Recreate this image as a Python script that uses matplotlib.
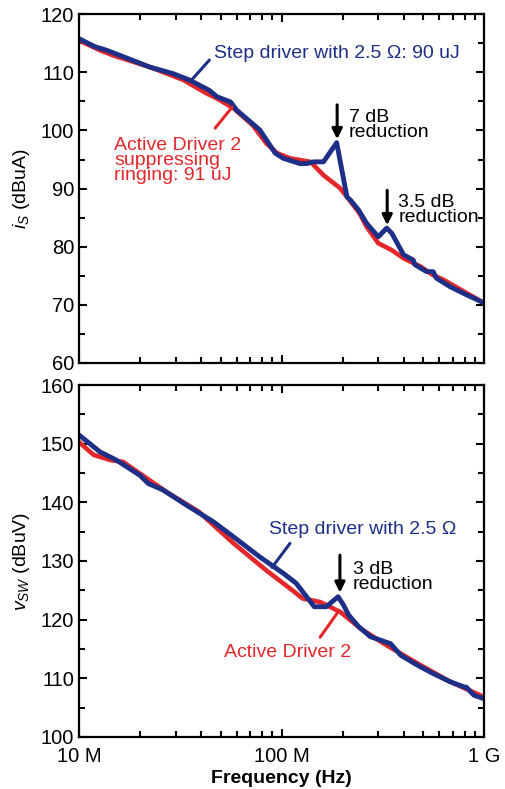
#!/usr/bin/env python3

# Conducted noise spectra: step driver vs. active driver

import matplotlib as mpl
mpl.use("Agg")

import matplotlib.pyplot as plt             # noqa
import matplotlib.ticker as mticker         # noqa
import numpy as np                          # noqa

plt.rcParams['font.family'] = ['Liberation Sans', 'DejaVu Sans']
plt.rcParams['mathtext.fontset'] = 'custom'
plt.rcParams['mathtext.rm'] = 'Liberation Sans'
plt.rcParams['mathtext.it'] = 'Liberation Sans:italic'

BLUE = '#1d2f86'
RED = '#e3272b'
FS = 14

# source current i_S (dBuA), frequencies in MHz
is_step_f = [10, 12, 13.7, 22.4, 29, 35, 44, 48, 56, 60, 78, 93, 102, 123, 133, 144, 161,
             187, 210, 219, 240, 263, 300, 330, 350, 400, 446, 455, 520, 560, 580, 680, 820, 1000]
is_step = [115.8, 114.4, 113.8, 110.9, 109.8, 108.7, 106.9, 105.8, 104.9, 103.5, 100.1, 96.1, 95.2,
           94.3, 94.3, 94.6, 94.6, 97.9, 88.6, 88.0, 86.3, 84.0, 81.7, 83.2, 82.3, 78.6, 77.7, 76.9,
           75.7, 75.7, 74.6, 73.1, 71.7, 70.3]

is_act_f = [10, 12.7, 14.8, 22.4, 32.7, 42.5, 48, 58, 72, 84, 95, 110, 139, 161, 194, 210, 243,
            263, 300, 350, 400, 484, 560, 630, 820, 1000]
is_act = [115.5, 113.8, 112.9, 110.9, 108.7, 106.4, 105.5, 103.8, 100.9, 97.8, 96.1, 95.2, 94.6,
          92.3, 90.1, 88.6, 85.7, 83.4, 80.6, 79.4, 78.0, 76.6, 75.1, 74.3, 72.0, 70.3]

# switch-node voltage v_SW (dBuV)
vsw_step_f = [10, 12.7, 15.3, 20, 22, 26, 34, 46, 58, 78, 102, 118, 145, 166, 190, 202, 214, 240,
              274, 345, 388, 470, 560, 680, 800, 815, 890, 1000]
vsw_step = [151.5, 148.6, 147.2, 144.6, 143.2, 142.1, 139.5, 136.7, 134.1, 130.7, 127.9, 126.2,
            122.2, 122.2, 123.9, 122.5, 120.8, 118.8, 117.1, 115.9, 113.9, 112.2, 110.8, 109.4,
            108.5, 108.5, 107.1, 106.5]

vsw_act_f = [10, 11.8, 14.3, 16.5, 20, 27, 39, 58, 84, 113, 127, 155, 195, 245, 320, 470, 680, 1000]
vsw_act = [150.3, 148.1, 147.2, 146.9, 144.9, 141.8, 138.4, 133.0, 128.4, 125.0, 123.6, 123.0,
           121.3, 118.5, 115.9, 112.5, 109.4, 106.8]


def freqfmt(x, pos):
  if x >= 1e9:
    return '%g G' % (x / 1e9)
  return '%g M' % (x / 1e6)


def setup(ax, ylo, yhi):
  ax.set_xscale('log')
  ax.set_xlim(1e7, 1e9)
  ax.set_ylim(ylo, yhi)
  ax.yaxis.set_major_locator(mticker.MultipleLocator(10))
  ax.yaxis.set_minor_locator(mticker.MultipleLocator(5))
  ax.xaxis.set_major_locator(mticker.LogLocator(base=10))
  ax.xaxis.set_minor_locator(mticker.LogLocator(base=10, subs=np.arange(2, 10)))
  ax.xaxis.set_minor_formatter(mticker.NullFormatter())
  ax.xaxis.set_major_formatter(mticker.FuncFormatter(freqfmt))
  ax.tick_params(which='both', direction='in', top=True, right=True, width=1.5, labelsize=14.5)
  ax.tick_params(which='major', length=6)
  ax.tick_params(which='minor', length=4)
  ax.tick_params(axis='x', pad=7)
  for s in ax.spines.values():
    s.set_linewidth(1.6)


def leader(ax, p0, p1, color):
  ax.annotate('', xy=p1, xytext=p0,
              arrowprops=dict(arrowstyle='-', color=color, lw=2.2, shrinkA=0, shrinkB=0))


def downarrow(ax, x, ytop, ybot):
  ax.annotate('', xy=(x, ybot), xytext=(x, ytop),
              arrowprops=dict(arrowstyle='-|>', color='black', lw=2.2, mutation_scale=15,
                              shrinkA=0, shrinkB=0))


fig = plt.figure(figsize=(5.06, 7.89), dpi=100)
ax1 = fig.add_axes([0.156, 0.540, 0.801, 0.442])
ax2 = fig.add_axes([0.156, 0.066, 0.801, 0.446])

# #######################
# i_S
setup(ax1, 60, 120)
ax1.plot(np.array(is_act_f) * 1e6, is_act, color=RED, lw=3.3)
ax1.plot(np.array(is_step_f) * 1e6, is_step, color=BLUE, lw=3.5)
ax1.tick_params(labelbottom=False)
ax1.set_ylabel(r'$i_S$ (dBuA)', fontsize=FS, labelpad=6)

ax1.text(46.4e6, 113.3, 'Step driver with 2.5 \u03a9: 90 uJ', color=BLUE, fontsize=FS, va='center')
leader(ax1, (44e6, 112.1), (36e6, 108.7), BLUE)
ax1.text(14.9e6, 94.9, 'Active Driver 2\nsuppressing\nringing: 91 uJ', color=RED, fontsize=FS,
         va='center', linespacing=0.85)
leader(ax1, (47e6, 100.4), (57e6, 104.0), RED)

downarrow(ax1, 188e6, 104.4, 98.5)
ax1.text(215e6, 100.9, '7 dB\nreduction', fontsize=FS, va='center', linespacing=0.85)
downarrow(ax1, 332e6, 89.7, 83.7)
ax1.text(376e6, 86.3, '3.5 dB\nreduction', fontsize=FS, va='center', linespacing=0.85)

# #######################
# v_SW
setup(ax2, 100, 160)
ax2.plot(np.array(vsw_act_f) * 1e6, vsw_act, color=RED, lw=3.3)
ax2.plot(np.array(vsw_step_f) * 1e6, vsw_step, color=BLUE, lw=3.5)
ax2.set_ylabel(r'$v_{SW}$ (dBuV)', fontsize=FS, labelpad=6)
ax2.set_xlabel('Frequency (Hz)', fontsize=FS, fontweight='bold', labelpad=3)

ax2.text(86.7e6, 135.3, 'Step driver with 2.5 \u03a9', color=BLUE, fontsize=FS, va='center')
leader(ax2, (110e6, 133.0), (89.7e6, 128.9), BLUE)
ax2.text(52e6, 114.4, 'Active Driver 2', color=RED, fontsize=FS, va='center')
leader(ax2, (155e6, 117.0), (188e6, 121.1), RED)

downarrow(ax2, 194e6, 131.0, 124.6)
ax2.text(225e6, 127.3, '3 dB\nreduction', fontsize=FS, va='center', linespacing=0.85)

plt.savefig('out.png', format='png')
